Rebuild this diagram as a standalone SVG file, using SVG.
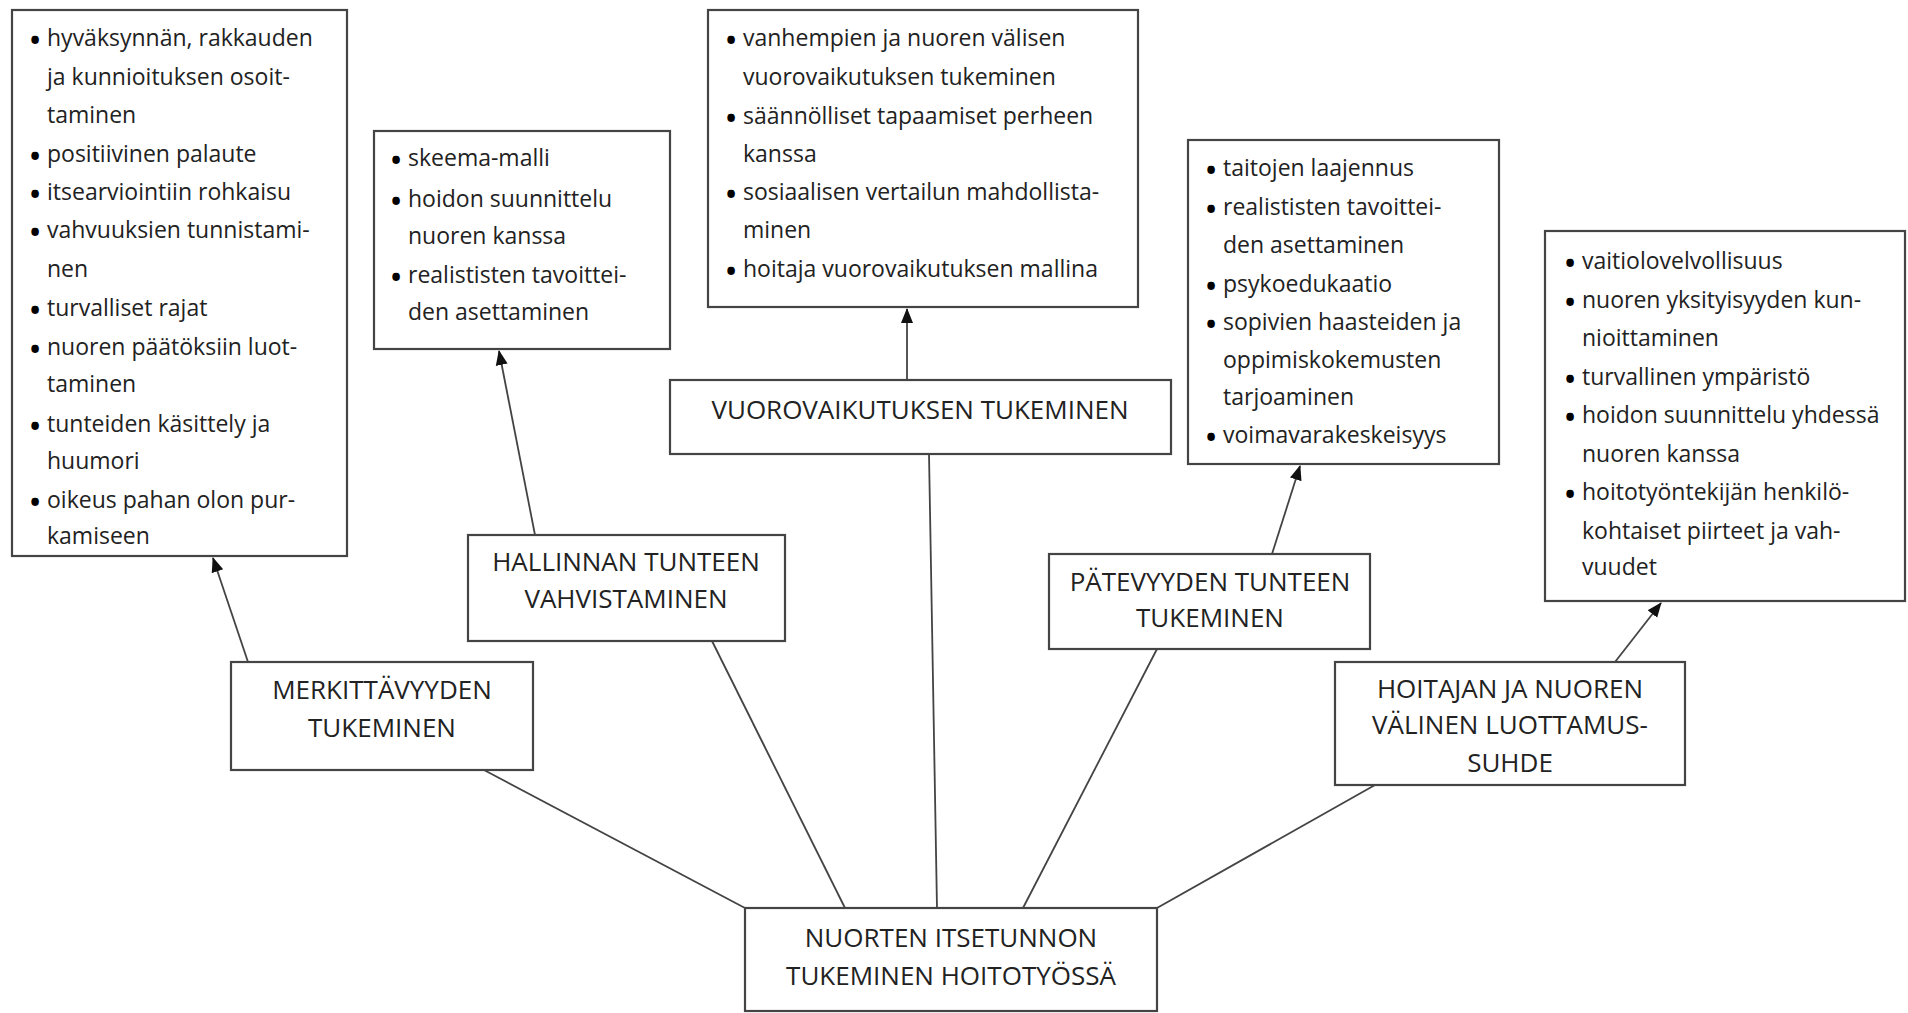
<svg xmlns="http://www.w3.org/2000/svg" width="1908" height="1013" viewBox="0 0 1908 1013">
<style>
.box{fill:#fff;stroke:#444;stroke-width:2.2}
.t{font-family:"Open Sans","Noto Sans",sans-serif;font-size:23px;fill:#222}
.b{font-family:"Open Sans","Noto Sans",sans-serif;font-size:27px;font-weight:bold;fill:#000;text-anchor:middle}
.h{font-family:"Open Sans","Noto Sans",sans-serif;font-size:26px;fill:#222;text-anchor:middle}
.ln{stroke:#444;stroke-width:1.8;fill:none}
</style>
<defs>
<marker id="ah" markerUnits="userSpaceOnUse" markerWidth="16" markerHeight="14" refX="14" refY="7" orient="auto">
<path d="M0,1 L15,7 L0,13 Z" fill="#111"/>
</marker>
</defs>
<rect width="1908" height="1013" fill="#fff"/>

<g id="connectors">
<line class="ln" x1="745" y1="908" x2="484" y2="770"/>
<line class="ln" x1="845" y1="908" x2="712" y2="641"/>
<line class="ln" x1="937" y1="908" x2="929" y2="454"/>
<line class="ln" x1="1023" y1="908" x2="1157" y2="649"/>
<line class="ln" x1="1157" y1="908" x2="1375" y2="785"/>
<line class="ln" x1="248" y1="662" x2="213" y2="558" marker-end="url(#ah)"/>
<line class="ln" x1="535" y1="535" x2="499" y2="351" marker-end="url(#ah)"/>
<line class="ln" x1="907" y1="380" x2="907" y2="309" marker-end="url(#ah)"/>
<line class="ln" x1="1272" y1="554" x2="1300" y2="466" marker-end="url(#ah)"/>
<line class="ln" x1="1615" y1="662" x2="1661" y2="603" marker-end="url(#ah)"/>
</g>

<g id="listA">
<rect class="box" x="12" y="10" width="335" height="546"/>
<text class="b" x="35" y="50">•</text><text class="t" x="47" y="46">hyväksynnän, rakkauden</text>
<text class="t" x="47" y="85">ja kunnioituksen osoit-</text>
<text class="t" x="47" y="123">taminen</text>
<text class="b" x="35" y="166">•</text><text class="t" x="47" y="162">positiivinen palaute</text>
<text class="b" x="35" y="204">•</text><text class="t" x="47" y="200">itsearviointiin rohkaisu</text>
<text class="b" x="35" y="242">•</text><text class="t" x="47" y="238">vahvuuksien tunnistami-</text>
<text class="t" x="47" y="277">nen</text>
<text class="b" x="35" y="320">•</text><text class="t" x="47" y="316">turvalliset rajat</text>
<text class="b" x="35" y="359">•</text><text class="t" x="47" y="355">nuoren päätöksiin luot-</text>
<text class="t" x="47" y="392">taminen</text>
<text class="b" x="35" y="436">•</text><text class="t" x="47" y="432">tunteiden käsittely ja</text>
<text class="t" x="47" y="469">huumori</text>
<text class="b" x="35" y="512">•</text><text class="t" x="47" y="508">oikeus pahan olon pur-</text>
<text class="t" x="47" y="544">kamiseen</text>
</g>

<g id="listB">
<rect class="box" x="374" y="131" width="296" height="218"/>
<text class="b" x="396" y="170">•</text><text class="t" x="408" y="166">skeema-malli</text>
<text class="b" x="396" y="211">•</text><text class="t" x="408" y="207">hoidon suunnittelu</text>
<text class="t" x="408" y="244">nuoren kanssa</text>
<text class="b" x="396" y="287">•</text><text class="t" x="408" y="283">realististen tavoittei-</text>
<text class="t" x="408" y="320">den asettaminen</text>
</g>

<g id="listC">
<rect class="box" x="708" y="10" width="430" height="297"/>
<text class="b" x="731" y="50">•</text><text class="t" x="743" y="46">vanhempien ja nuoren välisen</text>
<text class="t" x="743" y="85">vuorovaikutuksen tukeminen</text>
<text class="b" x="731" y="128">•</text><text class="t" x="743" y="124">säännölliset tapaamiset perheen</text>
<text class="t" x="743" y="162">kanssa</text>
<text class="b" x="731" y="204">•</text><text class="t" x="743" y="200">sosiaalisen vertailun mahdollista-</text>
<text class="t" x="743" y="238">minen</text>
<text class="b" x="731" y="281">•</text><text class="t" x="743" y="277">hoitaja vuorovaikutuksen mallina</text>
</g>

<g id="listD">
<rect class="box" x="1188" y="140" width="311" height="324"/>
<text class="b" x="1211" y="180">•</text><text class="t" x="1223" y="176">taitojen laajennus</text>
<text class="b" x="1211" y="219">•</text><text class="t" x="1223" y="215">realististen tavoittei-</text>
<text class="t" x="1223" y="253">den asettaminen</text>
<text class="b" x="1211" y="296">•</text><text class="t" x="1223" y="292">psykoedukaatio</text>
<text class="b" x="1211" y="334">•</text><text class="t" x="1223" y="330">sopivien haasteiden ja</text>
<text class="t" x="1223" y="368">oppimiskokemusten</text>
<text class="t" x="1223" y="405">tarjoaminen</text>
<text class="b" x="1211" y="447">•</text><text class="t" x="1223" y="443">voimavarakeskeisyys</text>
</g>

<g id="listE">
<rect class="box" x="1545" y="231" width="360" height="370"/>
<text class="b" x="1570" y="273">•</text><text class="t" x="1582" y="269">vaitiolovelvollisuus</text>
<text class="b" x="1570" y="312">•</text><text class="t" x="1582" y="308">nuoren yksityisyyden kun-</text>
<text class="t" x="1582" y="346">nioittaminen</text>
<text class="b" x="1570" y="389">•</text><text class="t" x="1582" y="385">turvallinen ympäristö</text>
<text class="b" x="1570" y="427">•</text><text class="t" x="1582" y="423">hoidon suunnittelu yhdessä</text>
<text class="t" x="1582" y="462">nuoren kanssa</text>
<text class="b" x="1570" y="504">•</text><text class="t" x="1582" y="500">hoitotyöntekijän henkilö-</text>
<text class="t" x="1582" y="539">kohtaiset piirteet ja vah-</text>
<text class="t" x="1582" y="575">vuudet</text>
</g>

<g id="nodeM">
<rect class="box" x="231" y="662" width="302" height="108"/>
<text class="h" x="382" y="699">MERKITTÄVYYDEN</text>
<text class="h" x="382" y="737">TUKEMINEN</text>
</g>
<g id="nodeH">
<rect class="box" x="468" y="535" width="317" height="106"/>
<text class="h" x="626" y="571">HALLINNAN TUNTEEN</text>
<text class="h" x="626" y="608">VAHVISTAMINEN</text>
</g>
<g id="nodeV">
<rect class="box" x="670" y="380" width="501" height="74"/>
<text class="h" x="920" y="419">VUOROVAIKUTUKSEN TUKEMINEN</text>
</g>
<g id="nodeP">
<rect class="box" x="1049" y="554" width="321" height="95"/>
<text class="h" x="1210" y="591">PÄTEVYYDEN TUNTEEN</text>
<text class="h" x="1210" y="627">TUKEMINEN</text>
</g>
<g id="nodeL">
<rect class="box" x="1335" y="662" width="350" height="123"/>
<text class="h" x="1510" y="698">HOITAJAN JA NUOREN</text>
<text class="h" x="1510" y="734">VÄLINEN LUOTTAMUS-</text>
<text class="h" x="1510" y="772">SUHDE</text>
</g>
<g id="root">
<rect class="box" x="745" y="908" width="412" height="103"/>
<text class="h" x="951" y="947">NUORTEN ITSETUNNON</text>
<text class="h" x="951" y="985">TUKEMINEN HOITOTYÖSSÄ</text>
</g>
</svg>
